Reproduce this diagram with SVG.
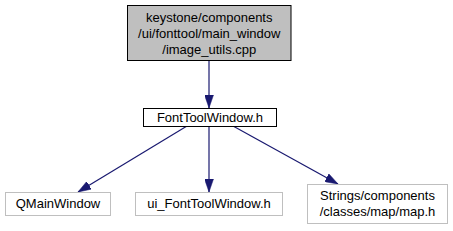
<svg xmlns="http://www.w3.org/2000/svg" width="453" height="231" viewBox="0 0 453 231">
<style>
text{font-family:"Liberation Sans",Arial,sans-serif;font-size:13px;fill:#000;text-anchor:middle}
.cur{fill:#bfbfbf;stroke:#000;stroke-width:1}
.main{fill:#fff;stroke:#000;stroke-width:1}
.ext{fill:#fff;stroke:#bfbfbf;stroke-width:1}
.edge{fill:none;stroke:#191970;stroke-width:1.2;marker-end:url(#arr)}
</style>
<defs>
<marker id="arr" viewBox="0 0 13 9" refX="13" refY="4.5" markerWidth="13" markerHeight="9" markerUnits="userSpaceOnUse" orient="auto">
<path d="M0,0 L13,4.5 L0,9 Z" fill="#191970" stroke="#191970" stroke-width="0.5"/>
</marker>
</defs>
<g id="connectors">
<path class="edge" d="M209,61 L209,108"/>
<path class="edge" d="M187,126 L78,192"/>
<path class="edge" d="M209,126 L209,192"/>
<path class="edge" d="M233,126 L338,184"/>
</g>
<g id="node-image_utils">
<rect class="cur" x="127.5" y="5.5" width="163.5" height="55"/>
<text x="209.25" y="21.5">keystone/components</text>
<text x="209.25" y="37.5">/ui/fonttool/main_window</text>
<text x="209.25" y="53.5">/image_utils.cpp</text>
</g>
<g id="node-FontToolWindow">
<rect class="main" x="143.5" y="108.5" width="133" height="18"/>
<text x="210" y="122">FontToolWindow.h</text>
</g>
<g id="node-QMainWindow">
<rect class="ext" x="5.5" y="192.5" width="105" height="23"/>
<text x="58" y="208">QMainWindow</text>
</g>
<g id="node-ui_FontToolWindow">
<rect class="ext" x="135.5" y="192.5" width="147" height="23"/>
<text x="209" y="208">ui_FontToolWindow.h</text>
</g>
<g id="node-map">
<rect class="ext" x="307.5" y="184.5" width="140" height="39"/>
<text x="377.5" y="200">Strings/components</text>
<text x="377.5" y="216">/classes/map/map.h</text>
</g>
</svg>
